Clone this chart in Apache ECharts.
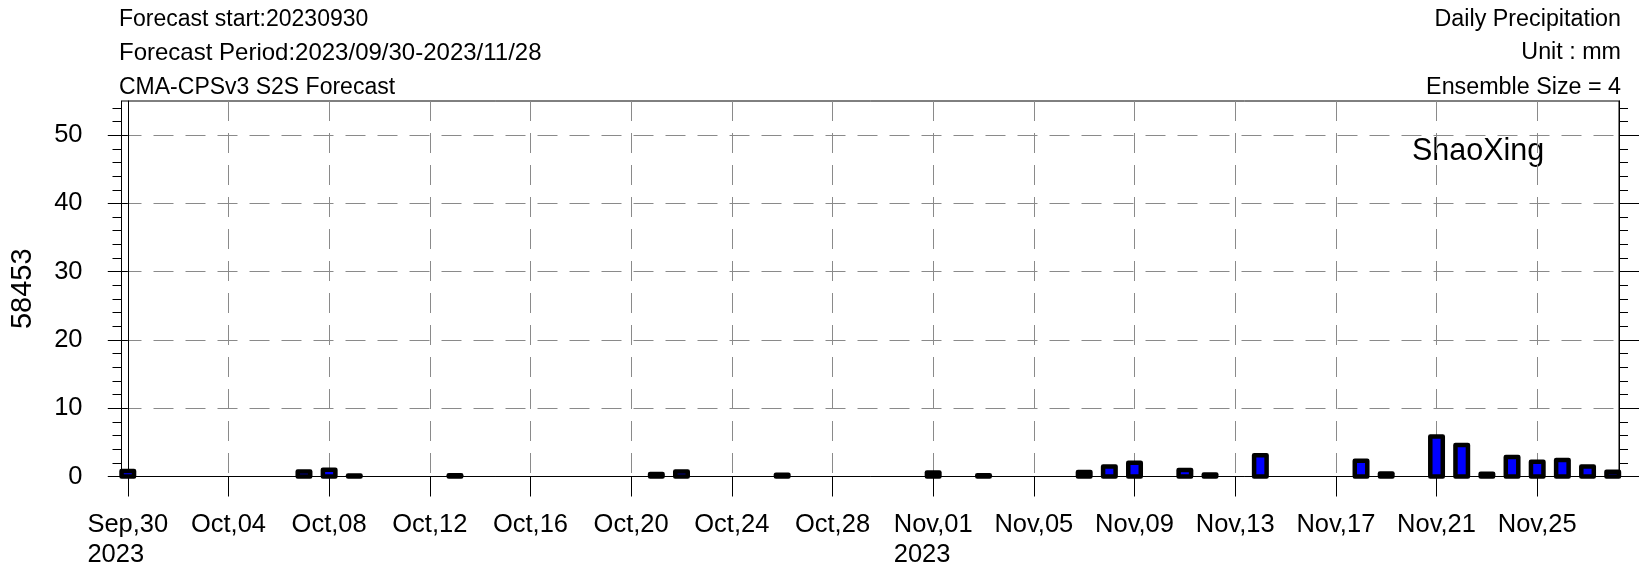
<!DOCTYPE html>
<html>
<head>
<meta charset="utf-8">
<script src="https://cdn.jsdelivr.net/npm/echarts@6/dist/echarts.min.js"></script>
<style>
html,body{margin:0;padding:0;background:#fff;}
#chart{width:1649px;height:573px;}
</style>
</head>
<body>
<div id="chart"></div>
<script>
// ---- data (day index 0 = 2023-09-30) ----
const barDays   = [0, 7, 8, 9, 13, 21, 22, 26, 32, 34, 38, 39, 40, 42, 43, 45, 49, 50, 52, 53, 54, 55, 56, 57, 58, 59];
const barValues = [0.8, 0.75, 1.0, 0.15, 0.2, 0.35, 0.75, 0.25, 0.6, 0.2, 0.65, 1.45, 2.0, 0.95, 0.3, 3.1, 2.3, 0.45, 5.85, 4.6, 0.4, 2.85, 2.15, 2.4, 1.45, 0.7];

const tickDays   = [0, 4, 8, 12, 16, 20, 24, 28, 32, 36, 40, 44, 48, 52, 56];
const tickLabels = ['Sep,30\n2023', 'Oct,04', 'Oct,08', 'Oct,12', 'Oct,16', 'Oct,20', 'Oct,24', 'Oct,28',
                    'Nov,01\n2023', 'Nov,05', 'Nov,09', 'Nov,13', 'Nov,17', 'Nov,21', 'Nov,25'];

const yMajor = [0, 10, 20, 30, 40, 50];
const yMinor = [2, 4, 6, 8, 12, 14, 16, 18, 22, 24, 26, 28, 32, 34, 36, 38, 42, 44, 46, 48, 52, 54];

const leftTitles  = ['Forecast start:20230930', 'Forecast Period:2023/09/30-2023/11/28', 'CMA-CPSv3 S2S Forecast'];
const rightTitles = ['Daily Precipitation', 'Unit : mm', 'Ensemble Size = 4'];
const stationName = 'ShaoXing';
const stationId   = '58453';

// ---- chart ----
const FONT = 'Liberation Sans, Arial, Helvetica, sans-serif';
const chart = echarts.init(document.getElementById('chart'), null, {renderer: 'canvas'});

const titleRows = [20, 53, 87.5];
const leftSizes = [23, 24, 23];
const graphics = [];
leftTitles.forEach((t, i) => graphics.push({
  type: 'text', x: 119, y: titleRows[i], silent: true,
  style: {text: t, fontSize: leftSizes[i], fontFamily: FONT, fill: '#000', align: 'left', verticalAlign: 'middle'}
}));
rightTitles.forEach((t, i) => graphics.push({
  type: 'text', x: 1621, y: titleRows[i], silent: true,
  style: {text: t, fontSize: 23.3, fontFamily: FONT, fill: '#000', align: 'right', verticalAlign: 'middle'}
}));
graphics.push({
  type: 'text', x: 1412, y: 152, silent: true,
  style: {text: stationName, fontSize: 30.5, fontFamily: FONT, fill: '#000', align: 'left', verticalAlign: 'middle'}
});

const gridDash = {color: '#8a8a8a', width: 1, type: [20, 12]};
const blackLine = {color: '#000', width: 1};

function yAx(pos, ticks, len, labels, split, name) {
  return {
    type: 'value', position: pos, min: 0, max: 55,
    axisLine: {show: true, lineStyle: blackLine},
    axisTick: {show: true, inside: false, length: len, customValues: ticks, lineStyle: blackLine},
    axisLabel: labels ? {show: true, customValues: ticks, fontSize: 25.5, fontFamily: FONT, color: '#000', margin: 39} : {show: false},
    splitLine: split ? {show: true, lineStyle: gridDash} : {show: false},
    minorTick: {show: false},
    name: name || '',
    nameLocation: 'middle',
    nameRotate: 90,
    nameGap: 84.5,
    nameTextStyle: {fontSize: 29, fontFamily: FONT, color: '#000'}
  };
}

const option = {
  animation: false,
  backgroundColor: '#fff',
  grid: {left: 119, right: 30, top: 101, bottom: 96.5, show: true, borderColor: '#000', borderWidth: 1, containLabel: false},
  graphic: graphics,
  xAxis: [{
    type: 'value', position: 'bottom', min: -0.25, max: 59.25,
    axisLine: {show: true, onZero: false, lineStyle: blackLine},
    axisTick: {show: true, inside: false, length: 20, customValues: tickDays, lineStyle: blackLine},
    axisLabel: {
      show: true, customValues: tickDays, margin: 33,
      fontSize: 25.5, fontFamily: FONT, color: '#000',
      formatter: function (v) {
        const i = tickDays.indexOf(Math.round(v));
        if (i < 0) return '';
        return tickLabels[i].split('\n').map(s => '{a|' + s + '}').join('\n');
      },
      rich: {a: {fontSize: 25.5, fontFamily: FONT, color: '#000', lineHeight: 30, align: 'left'}}
    },
    splitLine: {show: true, lineStyle: gridDash}
  }],
  yAxis: [
    yAx('left', yMajor, 20, true, true, stationId),
    yAx('left', yMinor, 9, false, false),
    yAx('right', yMajor, 20, false, false),
    yAx('right', yMinor, 9, false, false)
  ],
  series: [{
    type: 'custom',
    name: 'Daily Precipitation',
    xAxisIndex: 0, yAxisIndex: 0,
    clip: false,
    encode: {x: 0, y: 1},
    data: barDays.map((d, i) => [d, barValues[i]]),
    renderItem: function (params, api) {
      const d = api.value(0), v = api.value(1);
      const base = api.coord([d, 0]);
      const top = api.coord([d, v]);
      return {
        type: 'rect',
        shape: {x: base[0] - 6.25, y: top[1], width: 12.5, height: base[1] - top[1]},
        style: {fill: '#0000ff', stroke: '#000', lineWidth: 4.5, lineJoin: 'round'}
      };
    },
    z: 2
  }]
};
chart.setOption(option);
</script>
</body>
</html>
